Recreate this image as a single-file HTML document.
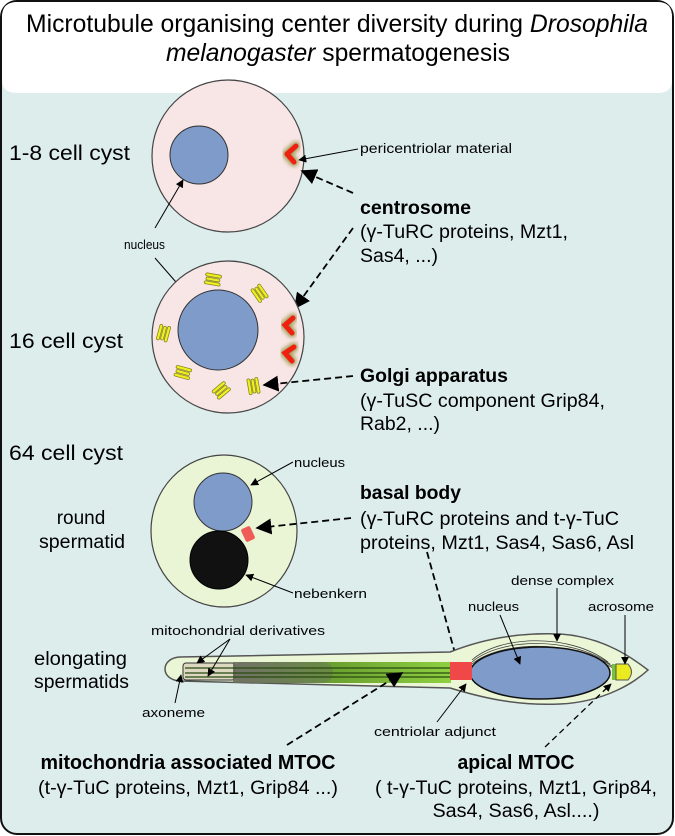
<!DOCTYPE html>
<html><head><meta charset="utf-8"><style>
html,body{margin:0;padding:0;background:#fff;}
svg{display:block;font-family:"Liberation Sans",Arial,sans-serif;}
</style></head><body>
<svg width="675" height="836" viewBox="0 0 675 836" xmlns="http://www.w3.org/2000/svg">
<defs>
<marker id="ab" viewBox="0 0 10 10" refX="9" refY="5" markerWidth="8" markerHeight="8" markerUnits="userSpaceOnUse" orient="auto"><path d="M0,0 L10,5 L0,10 z" fill="#000"/></marker>
<marker id="big" viewBox="0 0 10 10" refX="9" refY="5" markerWidth="16" markerHeight="16" markerUnits="userSpaceOnUse" orient="auto"><path d="M0,0 L10,5 L0,10 z" fill="#000"/></marker>
<linearGradient id="mito" x1="0" x2="1" y1="0" y2="0">
<stop offset="0" stop-color="#6a6a5a" stop-opacity="0.9"/>
<stop offset="0.45" stop-color="#6aa030"/>
<stop offset="1" stop-color="#8fd040"/>
</linearGradient>
<filter id="glow" x="-50%" y="-50%" width="200%" height="200%"><feGaussianBlur stdDeviation="2"/></filter>
</defs>
<rect x="1" y="1" width="672" height="833" rx="16" fill="#ddedec" stroke="#111" stroke-width="2"/>
<path d="M2,17 Q2,2 17,2 L658,2 Q672,2 672,17 L672,80 Q672,93 658,93 L17,93 Q2,93 2,80 Z" fill="#fff"/>
<text x="337" y="32" font-size="25" text-anchor="middle" textLength="622" lengthAdjust="spacingAndGlyphs">Microtubule organising center diversity during <tspan font-style="italic">Drosophila</tspan></text>
<text x="338" y="61" font-size="25" text-anchor="middle" textLength="344" lengthAdjust="spacingAndGlyphs"><tspan font-style="italic">melanogaster</tspan> spermatogenesis</text>

<!-- cell 1 -->
<circle cx="228" cy="156" r="76" fill="#f8e6e6" stroke="#444" stroke-width="1.2"/>
<ellipse cx="199" cy="155" rx="29" ry="29" fill="#7f9bc9" stroke="#333" stroke-width="1"/>
<path d="M296,146 L287,154 L294,162" fill="none" stroke="#8a8a30" stroke-width="9" stroke-linecap="round" filter="url(#glow)" opacity="0.8"/>
<path d="M296,146 L287,154 L294,162" fill="none" stroke="#f02010" stroke-width="5" stroke-linecap="round" stroke-linejoin="round"/>
<text x="9" y="160" font-size="21" textLength="121" lengthAdjust="spacingAndGlyphs">1-8 cell cyst</text>
<text x="360" y="153" font-size="14" textLength="152" lengthAdjust="spacingAndGlyphs">pericentriolar material</text>
<line x1="358" y1="149" x2="299" y2="160" stroke="#000" stroke-width="1" marker-end="url(#ab)"/>
<text x="124" y="249" font-size="13" textLength="41" lengthAdjust="spacingAndGlyphs">nucleus</text>
<line x1="155" y1="228" x2="183" y2="180" stroke="#000" stroke-width="1" marker-end="url(#ab)"/>
<line x1="155" y1="258" x2="189" y2="297" stroke="#000" stroke-width="1" marker-end="url(#ab)"/>
<text x="360" y="214" font-size="19" font-weight="bold" textLength="111" lengthAdjust="spacingAndGlyphs">centrosome</text>
<text x="360" y="238" font-size="19" textLength="208" lengthAdjust="spacingAndGlyphs">(γ-TuRC proteins, Mzt1,</text>
<text x="360" y="262" font-size="19" textLength="78" lengthAdjust="spacingAndGlyphs">Sas4, ...)</text>
<line x1="353" y1="193" x2="302" y2="171" stroke="#000" stroke-width="1.8" stroke-dasharray="7,4" marker-end="url(#big)"/>
<line x1="353" y1="228" x2="295" y2="308" stroke="#000" stroke-width="1.8" stroke-dasharray="7,4" marker-end="url(#big)"/>

<!-- cell 2 -->
<circle cx="228" cy="337" r="76" fill="#f8e6e6" stroke="#444" stroke-width="1.2"/>
<circle cx="218" cy="330" r="40" fill="#7f9bc9" stroke="#333" stroke-width="1"/>
<g fill="none" stroke-linecap="round">
<path d="M293,318 L285,325 L292,333" stroke="#8a8a30" stroke-width="9" filter="url(#glow)" opacity="0.8"/>
<path d="M293,318 L285,325 L292,333" stroke="#f02010" stroke-width="5"/>
<path d="M294,347 L285,353 L292,361" stroke="#8a8a30" stroke-width="9" filter="url(#glow)" opacity="0.8"/>
<path d="M294,347 L285,353 L292,361" stroke="#f02010" stroke-width="5"/>
</g>
<g fill="#f0f020" stroke="#888820" stroke-width="0.8">
<g transform="translate(213,279) rotate(10)"><rect x="-8" y="-5" width="16" height="3" rx="1.5"/><rect x="-7" y="-1" width="14" height="3" rx="1.5"/><rect x="-8" y="3" width="16" height="3" rx="1.5"/></g>
<g transform="translate(260,293) rotate(55)"><rect x="-8" y="-5" width="16" height="3" rx="1.5"/><rect x="-7" y="-1" width="14" height="3" rx="1.5"/><rect x="-8" y="3" width="16" height="3" rx="1.5"/></g>
<g transform="translate(163,333) rotate(-75)"><rect x="-8" y="-5" width="16" height="3" rx="1.5"/><rect x="-7" y="-1" width="14" height="3" rx="1.5"/><rect x="-8" y="3" width="16" height="3" rx="1.5"/></g>
<g transform="translate(183,372) rotate(15)"><rect x="-8" y="-5" width="16" height="3" rx="1.5"/><rect x="-7" y="-1" width="14" height="3" rx="1.5"/><rect x="-8" y="3" width="16" height="3" rx="1.5"/></g>
<g transform="translate(221,390) rotate(-40)"><rect x="-8" y="-5" width="16" height="3" rx="1.5"/><rect x="-7" y="-1" width="14" height="3" rx="1.5"/><rect x="-8" y="3" width="16" height="3" rx="1.5"/></g>
<g transform="translate(254,386) rotate(80)"><rect x="-8" y="-5" width="16" height="3" rx="1.5"/><rect x="-7" y="-1" width="14" height="3" rx="1.5"/><rect x="-8" y="3" width="16" height="3" rx="1.5"/></g>
</g>
<text x="9" y="348" font-size="21" textLength="114" lengthAdjust="spacingAndGlyphs">16 cell cyst</text>
<text x="360" y="382" font-size="19" font-weight="bold" textLength="148" lengthAdjust="spacingAndGlyphs">Golgi apparatus</text>
<text x="360" y="407" font-size="19" textLength="245" lengthAdjust="spacingAndGlyphs">(γ-TuSC component Grip84,</text>
<text x="360" y="430" font-size="19" textLength="80" lengthAdjust="spacingAndGlyphs">Rab2, ...)</text>
<line x1="353" y1="376" x2="264" y2="385" stroke="#000" stroke-width="1.8" stroke-dasharray="7,4" marker-end="url(#big)"/>

<!-- cell 3 -->
<text x="9" y="460" font-size="21" textLength="114" lengthAdjust="spacingAndGlyphs">64 cell cyst</text>
<ellipse cx="224" cy="531" rx="73" ry="76" fill="#eaf5d6" stroke="#444" stroke-width="1.2"/>
<circle cx="223" cy="502" r="29" fill="#7f9bc9" stroke="#333" stroke-width="1"/>
<circle cx="219" cy="560" r="29" fill="#111" stroke="#000" stroke-width="1"/>
<rect x="243" y="527" width="10" height="14" rx="2" fill="#f04040" opacity="0.85" transform="rotate(-25 248 534)"/>
<text x="294" y="467" font-size="13" textLength="51" lengthAdjust="spacingAndGlyphs">nucleus</text>
<line x1="293" y1="462" x2="251" y2="485" stroke="#000" stroke-width="1" marker-end="url(#ab)"/>
<text x="294" y="598" font-size="13" textLength="73" lengthAdjust="spacingAndGlyphs">nebenkern</text>
<line x1="293" y1="593" x2="246" y2="575" stroke="#000" stroke-width="1" marker-end="url(#ab)"/>
<text x="81" y="524" font-size="19" text-anchor="middle">round</text>
<text x="82" y="548" font-size="19" text-anchor="middle" textLength="86" lengthAdjust="spacingAndGlyphs">spermatid</text>
<text x="360" y="499" font-size="19" font-weight="bold" textLength="101" lengthAdjust="spacingAndGlyphs">basal body</text>
<text x="360" y="525" font-size="19" textLength="259" lengthAdjust="spacingAndGlyphs">(γ-TuRC proteins and t-γ-TuC</text>
<text x="360" y="549" font-size="19" textLength="274" lengthAdjust="spacingAndGlyphs">proteins, Mzt1, Sas4, Sas6, Asl</text>
<line x1="351" y1="518" x2="257" y2="528" stroke="#000" stroke-width="1.8" stroke-dasharray="7,4" marker-end="url(#big)"/>
<line x1="427" y1="552" x2="458" y2="664" stroke="#000" stroke-width="1.8" stroke-dasharray="7,4" marker-end="url(#big)"/>

<!-- elongating spermatid -->
<path d="M180,657 L450,652 C480,640 515,632 560,634 C605,637 635,660 648,670 C635,682 605,702 560,704 C515,706 480,697 450,688 L180,681 C160,680 160,658 180,657 Z" fill="#eaf6d6" stroke="#555" stroke-width="1.5"/>
<rect x="183" y="663" width="52" height="17" rx="3" fill="#ddd8c0" stroke="#333" stroke-width="1"/>
<rect x="233" y="662" width="218" height="21" fill="url(#mito)"/>
<rect x="233" y="662" width="100" height="21" rx="10" fill="#666" opacity="0.35"/>
<g stroke="#2a4a10" stroke-width="1.3"><line x1="185" y1="668" x2="450" y2="668"/><line x1="185" y1="673" x2="450" y2="673"/><line x1="185" y1="677" x2="450" y2="677"/></g>
<g fill="none" stroke="#444" stroke-width="0.8">
<path d="M472,662 C500,638 570,636 610,664"/><path d="M472,664 C500,641 570,639 612,666"/><path d="M472,666 C500,644 570,642 613,668"/><path d="M472,660 C500,635 570,633 608,662"/>
</g>
<ellipse cx="540" cy="673" rx="70" ry="26" fill="#7f9bc9" stroke="#111" stroke-width="1.5"/>
<rect x="450" y="662" width="22" height="18" fill="#f04848"/>
<path d="M617,664 L612,664 L612,680 L617,680 Z" fill="#7ac040"/>
<path d="M616,664 L628,664 Q635,672 628,680 L616,680 Z" fill="#eaea20" stroke="#555" stroke-width="1"/>
<text x="34" y="665" font-size="19" textLength="93" lengthAdjust="spacingAndGlyphs">elongating</text>
<text x="34" y="688" font-size="19" textLength="95" lengthAdjust="spacingAndGlyphs">spermatids</text>
<text x="151" y="635" font-size="13" textLength="174" lengthAdjust="spacingAndGlyphs">mitochondrial derivatives</text>
<line x1="230" y1="639" x2="197" y2="663" stroke="#000" stroke-width="1" marker-end="url(#ab)"/>
<line x1="230" y1="639" x2="208" y2="676" stroke="#000" stroke-width="1" marker-end="url(#ab)"/>
<text x="142" y="717" font-size="13" textLength="63" lengthAdjust="spacingAndGlyphs">axoneme</text>
<line x1="175" y1="703" x2="181" y2="675" stroke="#000" stroke-width="1" marker-end="url(#ab)"/>
<text x="374" y="736" font-size="13" textLength="122" lengthAdjust="spacingAndGlyphs">centriolar adjunct</text>
<line x1="437" y1="722" x2="466" y2="684" stroke="#000" stroke-width="1" marker-end="url(#ab)"/>
<text x="511" y="585" font-size="13" textLength="103" lengthAdjust="spacingAndGlyphs">dense complex</text>
<line x1="557" y1="588" x2="557" y2="641" stroke="#000" stroke-width="1" marker-end="url(#ab)"/>
<text x="468" y="611" font-size="13" textLength="51" lengthAdjust="spacingAndGlyphs">nucleus</text>
<line x1="500" y1="615" x2="520" y2="664" stroke="#000" stroke-width="1" marker-end="url(#ab)"/>
<text x="588" y="611" font-size="13" textLength="66" lengthAdjust="spacingAndGlyphs">acrosome</text>
<line x1="625" y1="615" x2="625" y2="664" stroke="#000" stroke-width="1" marker-end="url(#ab)"/>
<line x1="287" y1="745" x2="402" y2="673" stroke="#000" stroke-width="1.8" stroke-dasharray="7,4" marker-end="url(#big)"/>
<line x1="545" y1="747" x2="611" y2="684" stroke="#000" stroke-width="1.3" stroke-dasharray="6,4" marker-end="url(#ab)"/>

<text x="188" y="769" font-size="20" font-weight="bold" text-anchor="middle" textLength="295" lengthAdjust="spacingAndGlyphs">mitochondria associated MTOC</text>
<text x="188" y="794" font-size="19" text-anchor="middle" textLength="300" lengthAdjust="spacingAndGlyphs">(t-γ-TuC proteins, Mzt1, Grip84 ...)</text>
<text x="516" y="769" font-size="20" font-weight="bold" text-anchor="middle" textLength="117" lengthAdjust="spacingAndGlyphs">apical MTOC</text>
<text x="516" y="794" font-size="19" text-anchor="middle" textLength="282" lengthAdjust="spacingAndGlyphs">( t-γ-TuC proteins, Mzt1, Grip84,</text>
<text x="516" y="817" font-size="19" text-anchor="middle" textLength="167" lengthAdjust="spacingAndGlyphs">Sas4, Sas6, Asl....)</text>
</svg>
</body></html>
